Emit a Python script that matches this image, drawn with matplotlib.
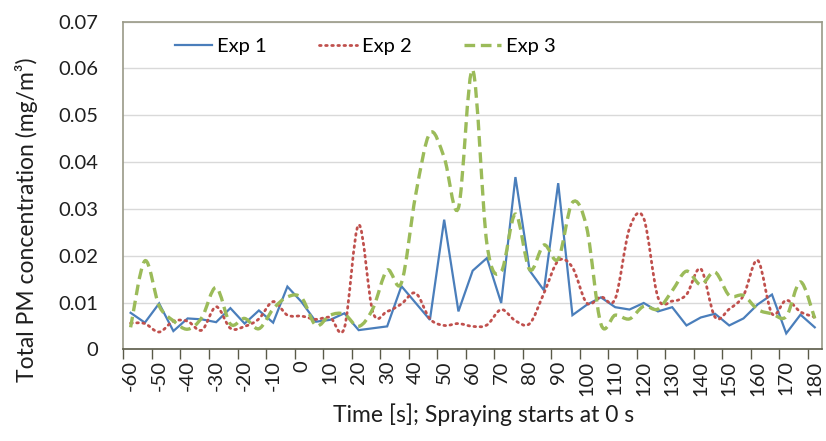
import matplotlib
matplotlib.use("Agg")
import matplotlib.pyplot as plt
from matplotlib.path import Path
from matplotlib.patches import PathPatch
from matplotlib.lines import Line2D
import numpy as np

plt.rcParams['font.family'] = ['Lato', 'DejaVu Sans']

time_labels = [str(t) for t in range(-60, 181, 10)]
times = list(range(-60, 181, 5))

exp1 = [0.0078, 0.0057, 0.0098, 0.0039, 0.0066, 0.0064, 0.0058, 0.0088, 0.0055, 0.0083,
        0.0057, 0.0134, 0.0101, 0.0059, 0.0063, 0.0077, 0.0041, 0.0045, 0.0049, 0.0135,
        0.0099, 0.0063, 0.0277, 0.0081, 0.0168, 0.0195, 0.0099, 0.0368, 0.0168, 0.0126,
        0.0355, 0.0073, 0.0095, 0.0111, 0.0090, 0.0085, 0.0099, 0.0081, 0.0090, 0.0051,
        0.0068, 0.0076, 0.0051, 0.0066, 0.0096, 0.0117, 0.0034, 0.0074, 0.0047]
exp2 = [0.0056, 0.0055, 0.0037, 0.0060, 0.0060, 0.0041, 0.0091, 0.0045, 0.0049, 0.0065,
        0.0102, 0.0073, 0.0071, 0.0064, 0.0068, 0.0046, 0.0266, 0.0079, 0.0081, 0.0097,
        0.0120, 0.0065, 0.0051, 0.0055, 0.0049, 0.0052, 0.0085, 0.0061, 0.0055, 0.0120,
        0.0189, 0.0175, 0.0099, 0.0112, 0.0108, 0.0258, 0.0280, 0.0111, 0.0103, 0.0117,
        0.0172, 0.0069, 0.0086, 0.0115, 0.0190, 0.0076, 0.0105, 0.0080, 0.0069]
exp3 = [0.0047, 0.0189, 0.0093, 0.0061, 0.0043, 0.0068, 0.0132, 0.0054, 0.0066, 0.0044,
        0.0086, 0.0112, 0.0110, 0.0051, 0.0073, 0.0075, 0.0049, 0.0087, 0.0169, 0.0142,
        0.0330, 0.0462, 0.0410, 0.0302, 0.0597, 0.0225, 0.0166, 0.0289, 0.0170, 0.0223,
        0.0193, 0.0314, 0.0260, 0.0054, 0.0073, 0.0065, 0.0092, 0.0086, 0.0125, 0.0167,
        0.0138, 0.0165, 0.0115, 0.0115, 0.0085, 0.0076, 0.0070, 0.0144, 0.0066]

c1, c2, c3 = '#4a7ebb', '#c0504d', '#9bbb59'
txt = '#1f1f1f'

fig = plt.figure(figsize=(8.26, 4.41), dpi=100)
ax = fig.add_axes([0.1495, 0.2079, 0.8455, 0.7429])

x = np.arange(len(times))


def smooth_path(xs, ys):
    xs = np.asarray(xs, float)
    ys = np.asarray(ys, float)
    pts = np.column_stack([xs, ys])
    n = len(pts)
    verts = [pts[0]]
    codes = [Path.MOVETO]
    for i in range(n - 1):
        p0 = pts[i - 1] if i > 0 else pts[i]
        p1 = pts[i]
        p2 = pts[i + 1]
        p3 = pts[i + 2] if i + 2 < n else pts[i + 1]
        cp1 = p1 + (p2 - p0) / 6.0
        cp2 = p2 - (p3 - p1) / 6.0
        verts += [cp1, cp2, p2]
        codes += [Path.CURVE4] * 3
    return Path(verts, codes)


dot_style = (0, (0.6, 1.6))
dash_style = (0, (3.2, 1.7))

ax.plot(x, exp1, color=c1, lw=1.6, solid_joinstyle='miter', zorder=3)
p2 = PathPatch(smooth_path(x, exp2), fill=False, edgecolor=c2, lw=2.0,
               linestyle=dot_style, capstyle='round', zorder=3)
ax.add_patch(p2)
p3 = PathPatch(smooth_path(x, exp3), fill=False, edgecolor=c3, lw=2.4,
               linestyle=dash_style, capstyle='butt', zorder=3)
ax.add_patch(p3)

ax.set_xlim(-0.5, len(times) - 0.5)
ax.set_ylim(0, 0.07)
ax.set_yticks(np.arange(0, 0.0701, 0.01))
ax.set_yticklabels(['0'] + ['%.2f' % v for v in np.arange(0.01, 0.0701, 0.01)])
ax.yaxis.grid(True, color='#d9d9d9', lw=1.0)
ax.set_axisbelow(True)
ax.tick_params(axis='y', length=0, pad=18, labelsize=14.5, colors=txt)

ax.set_xticks(x[::2])
ax.set_xticklabels(time_labels, rotation=90)
ax.set_xticks(np.arange(-0.5, len(times) - 1, 2), minor=True)
ax.tick_params(axis='x', which='major', length=0, pad=8, labelsize=14.5, colors=txt)
ax.tick_params(axis='x', which='minor', length=7, width=1, color='#5a5a48', direction='out')

for s in ['top', 'right', 'left']:
    ax.spines[s].set_color('#9a9a88')
    ax.spines[s].set_linewidth(1.2)
ax.spines['bottom'].set_color('#5a5a48')
ax.spines['bottom'].set_linewidth(1.2)

ax.set_ylabel('Total PM concentration (mg/m³)', fontsize=16.5, color=txt, va='center')
ax.yaxis.set_label_coords(-0.139, 0.395)
ax.set_xlabel('Time [s]; Spraying starts at 0 s', fontsize=16.5, color=txt, va='center')
ax.xaxis.set_label_coords(0.515, -0.2005)

handles = [Line2D([], [], color=c1, lw=1.6),
           Line2D([], [], color=c2, lw=2.0, linestyle=dot_style, dash_capstyle='round'),
           Line2D([], [], color=c3, lw=2.4, linestyle=dash_style)]
ax.legend(handles, ['Exp 1', 'Exp 2', 'Exp 3'], loc='upper left', ncol=3, frameon=False,
          bbox_to_anchor=(0.048, 1.005), fontsize=14.5, handlelength=1.85,
          columnspacing=2.6, handletextpad=0.25)

fig.savefig('out.png', dpi=100)
